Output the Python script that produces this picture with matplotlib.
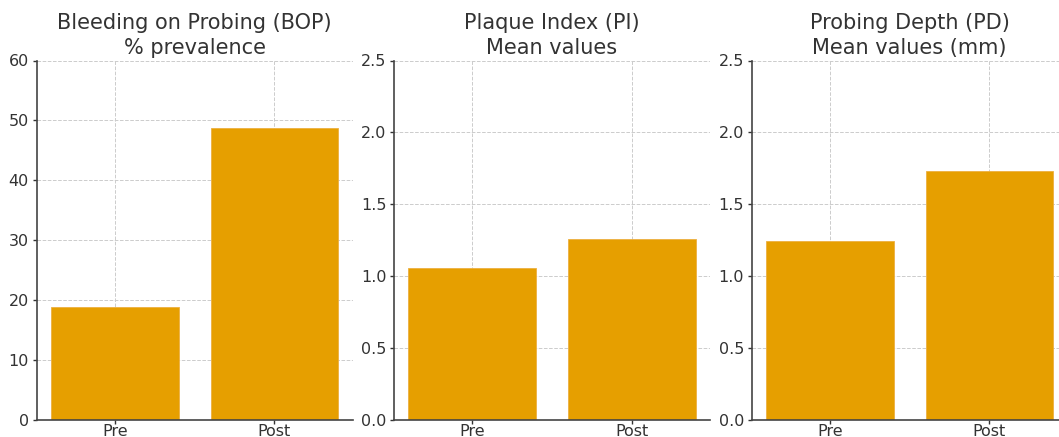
import matplotlib.pyplot as plt

# data
groups = ['Pre', 'Post']
bop = [18.8, 48.7]
pi = [1.06, 1.26]
pd_mm = [1.245, 1.73]

titles = ['Bleeding on Probing (BOP)\n% prevalence',
          'Plaque Index (PI)\nMean values',
          'Probing Depth (PD)\nMean values (mm)']
ylims = [(0, 60), (0, 2.5), (0, 2.5)]
yticks = [[0, 10, 20, 30, 40, 50, 60],
          [0.0, 0.5, 1.0, 1.5, 2.0, 2.5],
          [0.0, 0.5, 1.0, 1.5, 2.0, 2.5]]
yticklabels = [['0', '10', '20', '30', '40', '50', '60'],
               ['0.0', '0.5', '1.0', '1.5', '2.0', '2.5'],
               ['0.0', '0.5', '1.0', '1.5', '2.0', '2.5']]

bar_color = '#E69F00'
text_color = '#333333'

fig = plt.figure(figsize=(10.59, 4.37), dpi=100)

W, H = 1059, 437
lefts = [36.6, 394, 751.7]
ax_w = 316
bottom = 17
ax_h = 359.5

for i, vals in enumerate([bop, pi, pd_mm]):
    ax = fig.add_axes([lefts[i] / W, bottom / H, ax_w / W, ax_h / H])
    ax.set_axisbelow(True)
    ax.grid(True, linestyle='--', color='#cccccc', linewidth=0.7)
    ax.bar(groups, vals, width=0.8, color=bar_color, edgecolor='#EDB040', linewidth=0.6)
    ax.set_ylim(*ylims[i])
    ax.set_yticks(yticks[i])
    ax.set_yticklabels(yticklabels[i])
    ax.set_title(titles[i], fontsize=15, color=text_color, pad=5, linespacing=1.3)
    for s in ['top', 'right']:
        ax.spines[s].set_visible(False)
    for s in ['left', 'bottom']:
        ax.spines[s].set_color('#444444')
        ax.spines[s].set_linewidth(1.2)
    ax.tick_params(axis='both', labelsize=11.5, colors=text_color, length=3, width=1)
    ax.tick_params(axis='y', pad=2.5)
    ax.tick_params(axis='x', pad=0)

fig.savefig('out.png', dpi=100)
